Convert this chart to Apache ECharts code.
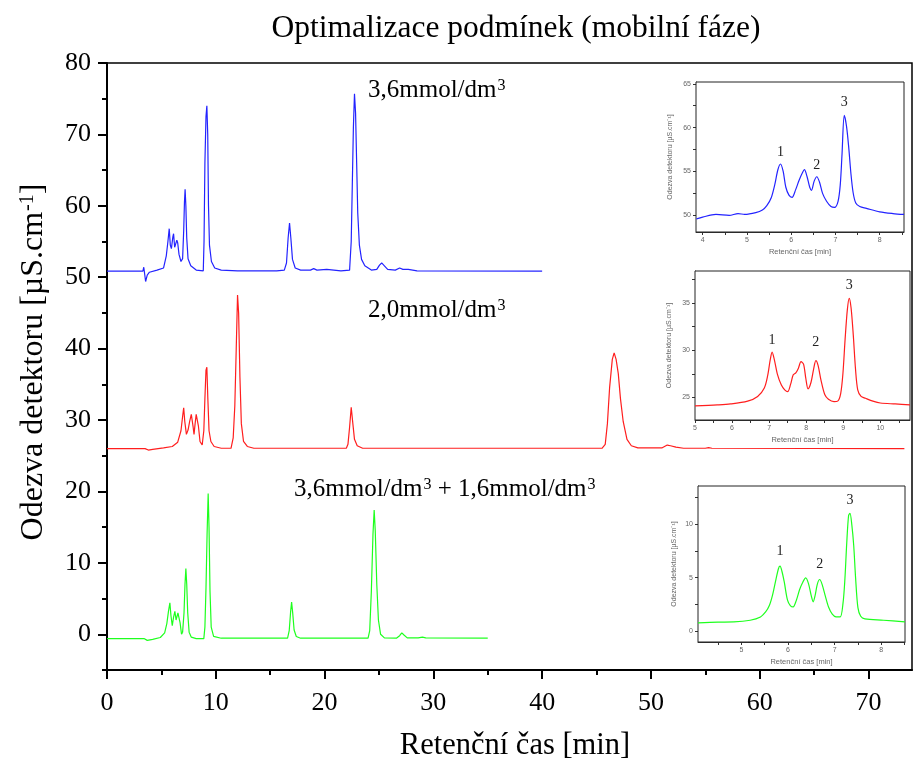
<!DOCTYPE html>
<html>
<head>
<meta charset="utf-8">
<script src="https://cdn.jsdelivr.net/npm/echarts@6/dist/echarts.min.js"></script>
<style>
  html, body { margin: 0; padding: 0; background: #fff; }
  #chart { width: 916px; height: 763px; }
</style>
</head>
<body>
<div id="chart"></div>
<script>
// ---------- Main chromatograms: retention time [min] vs detector response [µS/cm] ----------
// 3,6 mmol/dm3 mobile phase (blue)
const blueTime = [0, 3.3, 3.38, 3.45, 3.55, 3.7, 3.9, 4.6, 5.2, 5.45, 5.6, 5.72, 5.82, 5.92, 6.05, 6.12, 6.22, 6.3, 6.42, 6.5, 6.62, 6.8, 6.95, 7.05, 7.12, 7.18, 7.25, 7.33, 7.45, 7.7, 8.2, 8.85, 8.92, 9.0, 9.1, 9.18, 9.26, 9.33, 9.42, 9.6, 9.9, 10.5, 12, 14, 15.6, 16.3, 16.5, 16.65, 16.78, 16.9, 17.05, 17.3, 17.8, 18.7, 19.0, 19.3, 20.2, 21.5, 22.3, 22.45, 22.55, 22.65, 22.75, 22.85, 22.95, 23.05, 23.2, 23.4, 23.7, 24.3, 24.8, 25.05, 25.25, 25.5, 25.8, 26.5, 26.9, 27.2, 27.7, 28.5, 40];
const blueSignal = [50.85, 50.85, 51.4, 50.6, 49.4, 50.3, 50.7, 51.0, 51.3, 53.0, 55.0, 56.8, 54.5, 54.0, 55.6, 56.1, 54.2, 54.0, 55.2, 54.8, 53.2, 52.2, 52.6, 56.5, 60.5, 62.3, 60.0, 55.5, 52.6, 51.6, 51.0, 50.9, 55.0, 66.0, 72.5, 74.0, 70.0, 60.0, 54.5, 52.2, 51.3, 51.0, 50.9, 50.9, 50.9, 51.0, 52.0, 55.5, 57.6, 55.5, 52.5, 51.3, 51.0, 51.0, 51.2, 51.0, 51.1, 50.9, 51.0, 55.0, 63.0, 71.0, 75.7, 73.0, 66.0, 59.0, 54.5, 52.5, 51.6, 51.0, 51.1, 51.7, 52.0, 51.6, 51.1, 51.0, 51.3, 51.1, 51.1, 50.9, 50.85];

// 2,0 mmol/dm3 mobile phase (red)
const redTime = [0, 3.5, 3.8, 4.2, 5.2, 6.0, 6.5, 6.8, 6.95, 7.05, 7.15, 7.3, 7.45, 7.6, 7.75, 7.82, 7.92, 8.0, 8.1, 8.2, 8.28, 8.4, 8.55, 8.75, 8.9, 9.0, 9.1, 9.18, 9.27, 9.38, 9.55, 9.85, 10.5, 11.4, 11.6, 11.75, 11.88, 12.0, 12.1, 12.22, 12.35, 12.55, 12.9, 13.5, 22.0, 22.15, 22.3, 22.45, 22.6, 22.75, 23.0, 23.5, 45.5, 45.8, 46.0, 46.2, 46.45, 46.62, 46.8, 47.0, 47.2, 47.45, 47.8, 48.2, 48.8, 51.0, 51.5, 51.8, 52.3, 53.0, 55.0, 55.3, 55.6, 73.3];
const redSignal = [26.0, 26.0, 25.8, 25.9, 26.1, 26.3, 26.9, 28.5, 30.5, 31.7, 29.8, 28.0, 28.6, 29.8, 30.8, 30.9, 29.0, 28.0, 29.5, 30.8, 30.7, 29.2, 27.0, 26.5, 28.5, 33.0, 37.0, 37.4, 33.0, 28.5, 27.0, 26.3, 26.05, 26.05, 27.5, 32.0, 40.0, 47.5, 45.0, 36.0, 29.5, 27.0, 26.3, 26.05, 26.05, 26.6, 29.0, 31.8, 29.5, 27.3, 26.4, 26.05, 26.05, 26.6, 29.5, 34.5, 38.5, 39.4, 38.5, 36.5, 33.0, 29.8, 27.3, 26.4, 26.1, 26.1, 26.5, 26.4, 26.2, 26.05, 26.05, 26.15, 26.05, 26.0];

// 3,6 mmol/dm3 + 1,6 mmol/dm3 mobile phase (green)
const greenTime = [0, 3.4, 3.7, 4.2, 4.9, 5.3, 5.5, 5.65, 5.78, 5.88, 6.0, 6.12, 6.24, 6.35, 6.42, 6.52, 6.6, 6.72, 6.85, 6.95, 7.08, 7.17, 7.25, 7.33, 7.42, 7.55, 7.75, 8.2, 8.9, 9.0, 9.1, 9.2, 9.3, 9.38, 9.47, 9.58, 9.8, 10.5, 16.6, 16.75, 16.88, 16.97, 17.07, 17.2, 17.4, 17.8, 24.0, 24.15, 24.3, 24.45, 24.56, 24.66, 24.8, 24.95, 25.15, 25.5, 26.6, 26.9, 27.1, 27.3, 27.6, 28.6, 29.0, 29.3, 35.0];
const greenSignal = [-0.6, -0.6, -0.85, -0.7, -0.45, 0.2, 1.5, 3.2, 4.4, 2.6, 1.2, 2.4, 3.2, 2.0, 1.8, 3.0, 3.2, 1.6, 0.0, 0.3, 3.0, 7.0, 9.2, 7.0, 3.0, 0.3, -0.4, -0.6, -0.6, 1.0, 6.5, 14.0, 19.7, 15.0, 6.0, 1.0, -0.3, -0.55, -0.55, 0.5, 3.2, 4.5, 3.0, 0.6, -0.3, -0.55, -0.55, 0.5, 6.0, 14.0, 17.4, 14.5, 7.0, 2.0, 0.0, -0.5, -0.55, -0.2, 0.2, -0.1, -0.5, -0.5, -0.4, -0.5, -0.55];

// ---------- Detail of the first peaks (insets) ----------
const blueDetailTime = [3.86, 4.0, 4.3, 4.6, 4.8, 4.95, 5.2, 5.35, 5.45, 5.55, 5.63, 5.7, 5.76, 5.82, 5.88, 5.95, 6.02, 6.1, 6.18, 6.26, 6.3, 6.36, 6.42, 6.46, 6.52, 6.58, 6.64, 6.71, 6.8, 6.9, 6.98, 7.06, 7.11, 7.15, 7.2, 7.25, 7.3, 7.35, 7.4, 7.46, 7.55, 7.7, 8.0, 8.3, 8.55];
const blueDetailSignal = [49.6, 49.8, 50.1, 50.0, 50.2, 50.1, 50.3, 50.6, 51.1, 52.0, 53.5, 55.2, 55.85, 55.0, 53.2, 52.3, 52.05, 52.9, 54.0, 54.9, 55.2, 54.4, 53.2, 52.85, 53.9, 54.4, 53.8, 52.5, 51.6, 51.0, 50.9, 51.6, 53.5, 57.0, 61.4, 60.2, 57.8, 54.8, 52.6, 51.4, 51.0, 50.8, 50.4, 50.2, 50.1];

const redDetailTime = [5.0, 5.6, 5.96, 6.42, 6.69, 6.87, 6.96, 7.03, 7.08, 7.14, 7.22, 7.33, 7.42, 7.5, 7.58, 7.65, 7.72, 7.79, 7.86, 7.93, 7.99, 8.05, 8.13, 8.2, 8.26, 8.32, 8.4, 8.5, 8.6, 8.75, 8.85, 8.93, 8.99, 9.05, 9.11, 9.16, 9.21, 9.27, 9.33, 9.39, 9.48, 9.6, 9.8, 10.0, 10.4, 10.8];
const redDetailSignal = [24.1, 24.2, 24.3, 24.6, 25.1, 26.0, 27.3, 29.0, 29.8, 29.0, 27.5, 26.3, 25.8, 25.6, 26.4, 27.4, 27.6, 28.1, 28.8, 28.5, 27.0, 25.9, 26.6, 28.0, 28.9, 28.4, 26.8, 25.3, 24.8, 24.55, 24.6, 25.4, 27.5, 31.2, 34.3, 35.5, 34.5, 31.6, 28.0, 25.8, 25.1, 24.9, 24.6, 24.4, 24.3, 24.2];

const greenDetailTime = [4.07, 4.5, 4.84, 5.19, 5.41, 5.52, 5.6, 5.67, 5.74, 5.8, 5.83, 5.87, 5.92, 5.99, 6.05, 6.11, 6.18, 6.25, 6.32, 6.38, 6.44, 6.5, 6.54, 6.58, 6.63, 6.68, 6.73, 6.8, 6.87, 6.95, 7.03, 7.12, 7.18, 7.22, 7.26, 7.3, 7.33, 7.37, 7.41, 7.45, 7.5, 7.56, 7.65, 8.05, 8.51];
const greenDetailSignal = [0.78, 0.85, 0.87, 1.03, 1.34, 1.8, 2.4, 3.4, 4.8, 5.9, 6.07, 5.6, 4.6, 2.9, 2.4, 2.27, 2.9, 3.9, 4.6, 4.98, 4.45, 3.3, 2.74, 3.3, 4.4, 4.83, 4.4, 3.3, 2.27, 1.6, 1.35, 1.34, 2.6, 4.8, 8.2, 10.8, 11.0, 9.9, 8.0, 5.0, 2.2, 1.4, 1.15, 1.03, 0.87];

// Numbered peaks in each detail plot: retention time and height of the apex
const peakNames = ['1', '2', '3'];
const bluePeakTime = [5.76, 6.58, 7.2];
const bluePeakSignal = [55.85, 54.4, 61.4];
const redPeakTime = [7.08, 8.26, 9.16];
const redPeakSignal = [29.8, 28.9, 35.5];
const greenPeakTime = [5.83, 6.68, 7.33];
const greenPeakSignal = [6.07, 4.83, 11.0];

// ---------- Tick values ----------
const mainXTicks = [0, 10, 20, 30, 40, 50, 60, 70];
const mainXMinor = [5, 15, 25, 35, 45, 55, 65];
const mainYTicks = [0, 10, 20, 30, 40, 50, 60, 70, 80];
const mainYMinor = [-5, 5, 15, 25, 35, 45, 55, 65, 75];

const blueDetailXTicks = [4, 5, 6, 7, 8];
const blueDetailYTicks = [50, 55, 60, 65];
const redDetailXTicks = [5, 6, 7, 8, 9, 10];
const redDetailYTicks = [25, 30, 35];
const greenDetailXTicks = [5, 6, 7, 8];
const greenDetailYTicks = [0, 5, 10];

// ---------- Helpers ----------
const SERIF = '"Liberation Serif", "Times New Roman", serif';
const SANS = '"Liberation Sans", Arial, sans-serif';
const BLUE = '#2323ff', RED = '#ff1e1e', GREEN = '#1eff1e';

const pairs = (xs, ys) => xs.map((x, i) => [x, ys[i]]);
// ticks at every half step between the labelled values
const halfSteps = (ticks, lo, hi) => {
  const step = (ticks[1] - ticks[0]) / 2;
  const out = [];
  for (let v = ticks[0] - 4 * step; v <= hi + 1e-9; v += step) {
    if (v >= lo - 1e-9) out.push(+v.toFixed(4));
  }
  return out;
};

function insetX(grid, min, max, ticks) {
  return {
    type: 'value', gridIndex: grid, min: min, max: max, position: 'bottom',
    axisLine: { show: true, onZero: false, lineStyle: { color: '#333', width: 1 } },
    axisTick: { show: true, customValues: halfSteps(ticks, min, max), length: 3, lineStyle: { color: '#333', width: 1 } },
    axisLabel: { show: true, customValues: ticks, fontSize: 7, color: '#666', fontFamily: SANS, margin: 5 },
    splitLine: { show: false },
    name: 'Retenční čas [min]', nameLocation: 'middle', nameGap: 16,
    nameTextStyle: { fontSize: 7.5, color: '#666', fontFamily: SANS }
  };
}
function insetY(grid, min, max, ticks, gap) {
  return {
    type: 'value', gridIndex: grid, min: min, max: max, position: 'left',
    axisLine: { show: true, onZero: false, lineStyle: { color: '#333', width: 1 } },
    axisTick: { show: true, customValues: halfSteps(ticks, min, max), length: 3, lineStyle: { color: '#333', width: 1 } },
    axisLabel: { show: true, customValues: ticks, fontSize: 7, color: '#666', fontFamily: SANS, margin: 5 },
    splitLine: { show: false },
    name: 'Odezva detektoru [µS.cm⁻¹]', nameLocation: 'middle', nameGap: gap,
    nameTextStyle: { fontSize: 7, color: '#666', fontFamily: SANS }
  };
}
function peakMarks(times, signals, offsets) {
  return {
    symbol: 'circle', symbolSize: 0, silent: true,
    label: { show: true, position: 'inside', formatter: '{b}', color: '#222', fontSize: 14, fontFamily: SERIF },
    data: times.map((t, i) => ({ name: peakNames[i], coord: [t, signals[i]], label: { offset: [0, -offsets[i]] } }))
  };
}
function trace(data, color, xi, yi, smooth, extra) {
  return Object.assign({
    type: 'line', data: data, xAxisIndex: xi, yAxisIndex: yi,
    showSymbol: false, symbol: 'none', smooth: smooth, silent: true,
    lineStyle: { color: color, width: 1.2 }, itemStyle: { color: color },
    animation: false, z: 3
  }, extra || {});
}

const chart = echarts.init(document.getElementById('chart'), null, { renderer: 'canvas' });

// base text plus a raised, smaller superscript
const supRich = (size) => ({
  b: { fontSize: size, fontFamily: SERIF, fill: '#000' },
  s: { fontSize: Math.round(size * 0.62), fontFamily: SERIF, fill: '#000', verticalAlign: 'top', lineHeight: Math.round(size * 0.3), padding: [0, 0, 0, 1] }
});

chart.setOption({
  backgroundColor: '#fff',
  animation: false,
  grid: [
    { left: 107, top: 63, right: 4, bottom: 93, show: true, borderColor: '#000', borderWidth: 1.5, containLabel: false },
    { left: 696, top: 82, width: 208, height: 150, show: true, borderColor: '#222', borderWidth: 1, backgroundColor: '#fff', z: 1 },
    { left: 695, top: 271, width: 215, height: 149, show: true, borderColor: '#222', borderWidth: 1, backgroundColor: '#fff', z: 1 },
    { left: 698, top: 486, width: 207, height: 156, show: true, borderColor: '#222', borderWidth: 1, backgroundColor: '#fff', z: 1 }
  ],
  xAxis: [
    {
      type: 'value', gridIndex: 0, min: 0, max: 74, position: 'bottom',
      axisLine: { show: true, onZero: false, lineStyle: { color: '#000', width: 2 } },
      axisTick: { show: true, customValues: mainXTicks, length: 9, lineStyle: { color: '#000', width: 2 } },
      axisLabel: { show: true, customValues: mainXTicks, fontSize: 26, fontFamily: SERIF, color: '#000', margin: 20 },
      splitLine: { show: false }
    },
    {
      type: 'value', gridIndex: 0, min: 0, max: 74, position: 'bottom',
      axisLine: { show: false, onZero: false },
      axisTick: { show: true, customValues: mainXMinor, length: 5, lineStyle: { color: '#000', width: 2 } },
      axisLabel: { show: false }, splitLine: { show: false }
    },
    insetX(1, 3.85, 8.55, blueDetailXTicks),
    insetX(2, 5.0, 10.8, redDetailXTicks),
    insetX(3, 4.07, 8.51, greenDetailXTicks)
  ],
  yAxis: [
    {
      type: 'value', gridIndex: 0, min: -5, max: 80, position: 'left',
      axisLine: { show: true, onZero: false, lineStyle: { color: '#000', width: 2 } },
      axisTick: { show: true, customValues: mainYTicks, length: 9, lineStyle: { color: '#000', width: 2 } },
      axisLabel: { show: true, customValues: mainYTicks, fontSize: 26, fontFamily: SERIF, color: '#000', margin: 16 },
      splitLine: { show: false }
    },
    {
      type: 'value', gridIndex: 0, min: -5, max: 80, position: 'left',
      axisLine: { show: false, onZero: false },
      axisTick: { show: true, customValues: mainYMinor, length: 5, lineStyle: { color: '#000', width: 2 } },
      axisLabel: { show: false }, splitLine: { show: false }
    },
    insetY(1, 48.1, 65.2, blueDetailYTicks, 22),
    insetY(2, 22.6, 38.4, redDetailYTicks, 22),
    insetY(3, -1.0, 13.55, greenDetailYTicks, 20)
  ],
  series: [
    trace(pairs(blueTime, blueSignal), BLUE, 0, 0, false),
    trace(pairs(redTime, redSignal), RED, 0, 0, false),
    trace(pairs(greenTime, greenSignal), GREEN, 0, 0, false),
    trace(pairs(blueDetailTime, blueDetailSignal), BLUE, 2, 2, 0.3,
      { markPoint: peakMarks(bluePeakTime, bluePeakSignal, [12, 11, 13]) }),
    trace(pairs(redDetailTime, redDetailSignal), RED, 3, 3, 0.3,
      { markPoint: peakMarks(redPeakTime, redPeakSignal, [12, 18, 13]) }),
    trace(pairs(greenDetailTime, greenDetailSignal), GREEN, 4, 4, 0.3,
      { markPoint: peakMarks(greenPeakTime, greenPeakSignal, [15, 15, 13]) })
  ],
  graphic: [
    {
      type: 'text', x: 516, y: 29, silent: true,
      style: { text: 'Optimalizace podmínek (mobilní fáze)', font: '31.5px ' + SERIF, fill: '#000', align: 'center', verticalAlign: 'middle' }
    },
    {
      type: 'text', x: 515, y: 746, silent: true,
      style: { text: 'Retenční čas [min]', font: '30.5px ' + SERIF, fill: '#000', align: 'center', verticalAlign: 'middle' }
    },
    {
      type: 'text', x: 34, y: 362, rotation: Math.PI / 2, silent: true,
      style: {
        text: '{b|Odezva detektoru [µS.cm}{s|-1}{b|]}', rich: supRich(32),
        fill: '#000', align: 'center', verticalAlign: 'middle'
      }
    },
    {
      type: 'text', x: 368, y: 90, silent: true,
      style: { text: '{b|3,6mmol/dm}{s|3}', rich: supRich(25), fill: '#000', align: 'left', verticalAlign: 'middle' }
    },
    {
      type: 'text', x: 368, y: 310, silent: true,
      style: { text: '{b|2,0mmol/dm}{s|3}', rich: supRich(25), fill: '#000', align: 'left', verticalAlign: 'middle' }
    },
    {
      type: 'text', x: 294, y: 489, silent: true,
      style: { text: '{b|3,6mmol/dm}{s|3}{b| + 1,6mmol/dm}{s|3}', rich: supRich(25), fill: '#000', align: 'left', verticalAlign: 'middle' }
    }
  ]
});
</script>
</body>
</html>
